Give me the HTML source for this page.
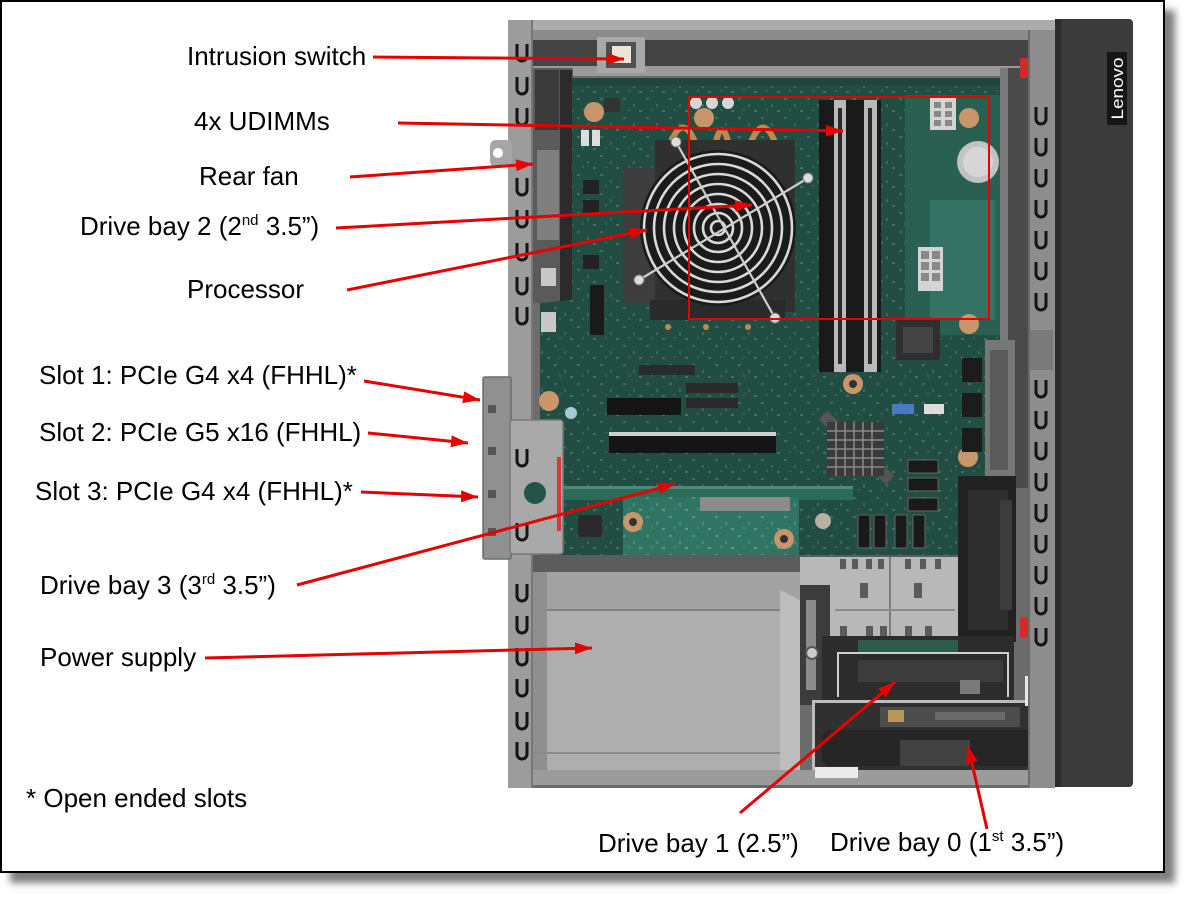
<!DOCTYPE html>
<html><head><meta charset="utf-8">
<style>
html,body{margin:0;padding:0;background:#fff;}
body{width:1195px;height:904px;position:relative;overflow:hidden;}
.frame{position:absolute;left:0;top:0;width:1161px;height:869px;border:2px solid #000;box-shadow:10px 10px 7px rgba(0,0,0,0.5);background:#fff;}
svg{position:absolute;left:0;top:0;}
text{font-family:"Liberation Sans",Arial,sans-serif;font-size:26px;fill:#000;}
</style></head><body>
<div class="frame"></div>
<svg width="1195" height="904" viewBox="0 0 1195 904" xmlns="http://www.w3.org/2000/svg">
<defs>
  <marker id="ah" markerUnits="userSpaceOnUse" markerWidth="18" markerHeight="12" refX="17" refY="6" orient="auto">
    <path d="M0,0 L17,6 L0,12 z" fill="#e60000"/>
  </marker>
  <pattern id="spk" width="23" height="19" patternUnits="userSpaceOnUse">
    <rect x="2" y="3" width="3" height="2" fill="#8fb3a6"/>
    <rect x="12" y="9" width="2" height="3" fill="#7aa596"/>
    <rect x="18" y="15" width="3" height="2" fill="#9cc0b2"/>
    <rect x="7" y="14" width="2" height="2" fill="#6f988a"/>
  </pattern>
  <g id="u"><path d="M-5,0 v12 a5,5 0 0 0 10,0 v-12" fill="none" stroke="#141414" stroke-width="3"/></g>
</defs>

<!-- ===== chassis base ===== -->
<rect x="508" y="20" width="547" height="768" fill="#6c6c6c"/>
<!-- top rim -->
<rect x="508" y="20" width="547" height="10" fill="#ababab"/>
<rect x="533" y="30" width="495" height="12" fill="#8c8c8c"/>
<rect x="533" y="40" width="495" height="28" fill="#444"/>
<rect x="533" y="66" width="495" height="10" fill="#9a9a9a"/>
<!-- intrusion switch -->
<rect x="597" y="37" width="48" height="36" fill="#a8a8a8"/>
<rect x="606" y="42" width="30" height="26" fill="#505050"/>
<rect x="612" y="46" width="19" height="17" fill="#ece4d4"/>

<!-- rear fan area -->
<rect x="533" y="68" width="40" height="235" fill="#5a5a5a"/>
<rect x="535" y="70" width="24" height="60" fill="#3a3a3a"/>
<rect x="537" y="150" width="22" height="90" fill="#7e7e7e"/>
<rect x="560" y="70" width="12" height="232" fill="#2b2b2b"/>

<!-- motherboard -->
<polygon points="572,78 1000,78 1000,556 540,556 540,303 572,300" fill="#224d43"/>
<polygon points="572,78 1000,78 1000,556 540,556 540,303 572,300" fill="url(#spk)" opacity="0.3"/>
<rect x="905" y="95" width="95" height="240" fill="#2a6051"/>
<rect x="930" y="200" width="65" height="120" fill="#347363"/>
<rect x="572" y="78" width="428" height="8" fill="#1d463c"/>

<!-- right side between board & rail -->
<rect x="1000" y="68" width="28" height="420" fill="#4a4a4a"/>
<rect x="1000" y="68" width="8" height="420" fill="#7a7a7a"/>
<rect x="985" y="340" width="30" height="140" fill="#777"/>
<rect x="990" y="350" width="18" height="120" fill="#5a5a5a"/>

<!-- board components (left) -->
<rect x="541" y="268" width="15" height="18" fill="#c8c8c8"/>
<rect x="541" y="312" width="15" height="20" fill="#c8c8c8"/>
<rect x="581" y="130" width="8" height="16" fill="#ddd"/>
<rect x="592" y="130" width="8" height="16" fill="#ddd"/>
<rect x="583" y="180" width="16" height="14" fill="#222"/>
<rect x="583" y="200" width="16" height="14" fill="#222"/>
<rect x="583" y="255" width="16" height="14" fill="#222"/>
<rect x="604" y="98" width="16" height="14" fill="#333"/>
<rect x="590" y="285" width="14" height="50" fill="#1a1a1a"/>
<circle cx="594" cy="112" r="10" fill="#c9966c"/>
<circle cx="704" cy="118" r="10" fill="#c9966c"/>
<circle cx="969" cy="118" r="10" fill="#c9966c"/>
<circle cx="969" cy="324" r="10" fill="#c9966c"/>
<circle cx="853" cy="384" r="10" fill="#c9966c"/>
<circle cx="853" cy="384" r="4" fill="#333"/>
<circle cx="549" cy="401" r="10" fill="#c9966c"/>
<circle cx="968" cy="457" r="10" fill="#c9966c"/>
<circle cx="571" cy="413" r="6" fill="#a8c8d8"/>
<!-- caps top -->
<circle cx="696" cy="103" r="6" fill="#d6d6d6"/>
<circle cx="712" cy="103" r="6" fill="#d6d6d6"/>
<circle cx="728" cy="103" r="6" fill="#d6d6d6"/>

<!-- heat pipes -->
<path d="M668,150 Q683,105 698,150" fill="none" stroke="#c08850" stroke-width="6"/>
<path d="M714,150 Q722,110 730,150" fill="none" stroke="#c08850" stroke-width="6"/>
<path d="M748,150 Q763,105 778,150" fill="none" stroke="#c08850" stroke-width="6"/>
<!-- heatsink -->
<rect x="623" y="168" width="45" height="135" fill="#3d3d3d"/>
<rect x="655" y="140" width="140" height="172" fill="#303030"/>
<rect x="650" y="300" width="135" height="20" fill="#2a2a2a"/>
<circle cx="668" cy="327" r="3" fill="#c08850"/>
<circle cx="706" cy="327" r="3" fill="#c08850"/>
<circle cx="748" cy="327" r="3" fill="#c08850"/>
<circle cx="718" cy="228" r="78" fill="#1b1b1b"/>
<g fill="none" stroke="#d9d9d9" stroke-width="2.6">
  <circle cx="718" cy="228" r="74"/>
  <circle cx="718" cy="228" r="64"/>
  <circle cx="718" cy="228" r="54"/>
  <circle cx="718" cy="228" r="44"/>
  <circle cx="718" cy="228" r="34"/>
  <circle cx="718" cy="228" r="24"/>
  <circle cx="718" cy="228" r="15"/>
  <circle cx="718" cy="228" r="7"/>
</g>
<g stroke="#cfcfcf" stroke-width="2.2">
  <line x1="676" y1="142" x2="775" y2="318"/>
  <line x1="808" y1="178" x2="639" y2="280"/>
</g>
<g fill="#ddd" stroke="#777" stroke-width="1">
  <circle cx="676" cy="142" r="5"/><circle cx="808" cy="178" r="5"/>
  <circle cx="639" cy="280" r="5"/><circle cx="775" cy="318" r="5"/>
</g>

<!-- DIMM slots -->
<rect x="819" y="100" width="62" height="272" fill="#1a1a1a"/>
<rect x="834" y="100" width="12" height="272" fill="#b9b9b9"/>
<rect x="838" y="108" width="4" height="256" fill="#2a2a2a"/>
<rect x="864" y="100" width="13" height="272" fill="#b9b9b9"/>
<rect x="868" y="108" width="4" height="256" fill="#2a2a2a"/>
<!-- connectors right -->
<rect x="930" y="98" width="26" height="32" fill="#d4d4d4"/>
<g fill="#888"><rect x="934" y="102" width="7" height="6"/><rect x="945" y="102" width="7" height="6"/><rect x="934" y="111" width="7" height="6"/><rect x="945" y="111" width="7" height="6"/><rect x="934" y="120" width="7" height="6"/><rect x="945" y="120" width="7" height="6"/></g>
<rect x="918" y="247" width="25" height="44" fill="#d4d4d4"/>
<g fill="#888"><rect x="921" y="251" width="8" height="8"/><rect x="932" y="251" width="8" height="8"/><rect x="921" y="262" width="8" height="8"/><rect x="932" y="262" width="8" height="8"/><rect x="921" y="273" width="8" height="8"/><rect x="932" y="273" width="8" height="8"/></g>
<circle cx="978" cy="162" r="21" fill="#c2c2c2"/>
<circle cx="978" cy="162" r="15" fill="#d6d6d6"/>
<rect x="896" y="320" width="44" height="40" fill="#2e2e2e"/>
<rect x="903" y="327" width="30" height="26" fill="#444"/>
<g fill="#1c1c1c"><rect x="962" y="358" width="20" height="24"/><rect x="962" y="393" width="20" height="24"/><rect x="962" y="428" width="20" height="24"/></g>
<rect x="892" y="404" width="22" height="10" fill="#4a7ac0"/>
<rect x="924" y="404" width="20" height="10" fill="#ddd"/>

<!-- PCIe slots -->
<rect x="639" y="365" width="56" height="10" fill="#2a2a2a"/>
<rect x="686" y="383" width="52" height="10" fill="#2a2a2a"/>
<rect x="686" y="398" width="52" height="10" fill="#2a2a2a"/>
<rect x="607" y="398" width="74" height="17" fill="#151515"/>
<rect x="609" y="432" width="167" height="21" fill="#151515"/>
<rect x="609" y="432" width="167" height="4" fill="#cfcfcf"/>
<!-- chipset heatsink -->
<path d="M823,415 L890,480" stroke="#555" stroke-width="12"/>
<rect x="827" y="422" width="57" height="54" fill="#3a3a3a"/>
<g stroke="#8a8a8a" stroke-width="1.5">
  <line x1="827" y1="431" x2="884" y2="431"/><line x1="827" y1="440" x2="884" y2="440"/><line x1="827" y1="449" x2="884" y2="449"/><line x1="827" y1="458" x2="884" y2="458"/><line x1="827" y1="467" x2="884" y2="467"/>
  <line x1="836" y1="422" x2="836" y2="476"/><line x1="845" y1="422" x2="845" y2="476"/><line x1="854" y1="422" x2="854" y2="476"/><line x1="863" y1="422" x2="863" y2="476"/><line x1="872" y1="422" x2="872" y2="476"/>
</g>
<!-- SATA -->
<g fill="#1a1a1a" stroke="#666" stroke-width="1">
  <rect x="908" y="460" width="30" height="13"/><rect x="908" y="478" width="30" height="13"/><rect x="908" y="498" width="30" height="13"/>
  <rect x="858" y="515" width="12" height="33"/><rect x="874" y="515" width="12" height="33"/><rect x="895" y="515" width="12" height="33"/><rect x="913" y="515" width="12" height="33"/>
</g>
<!-- long card edge + drive bay 3 card -->
<rect x="563" y="486" width="290" height="14" fill="#2b6b58"/>
<rect x="563" y="486" width="290" height="3" fill="#4a8c78"/>
<rect x="623" y="497" width="176" height="88" fill="#307563"/>
<rect x="623" y="497" width="176" height="88" fill="url(#spk)" opacity="0.45"/>
<rect x="700" y="497" width="90" height="14" fill="#8c8c8c"/>
<circle cx="633" cy="522" r="10" fill="#c9966c"/><circle cx="633" cy="522" r="4" fill="#333"/>
<circle cx="784" cy="539" r="10" fill="#c9966c"/><circle cx="784" cy="539" r="4" fill="#333"/>
<circle cx="823" cy="521" r="8" fill="#b8b0a0"/>
<rect x="578" y="515" width="24" height="22" fill="#2a2a2a"/>

<!-- chassis fan right -->
<rect x="958" y="476" width="58" height="166" fill="#222"/>
<rect x="968" y="490" width="40" height="140" fill="#2e2e2e"/>
<rect x="1000" y="500" width="12" height="110" fill="#3c3c3c"/>

<!-- below board shadow -->
<rect x="533" y="555" width="425" height="18" fill="#5c5c5c"/>
<!-- PSU -->
<rect x="533" y="572" width="267" height="198" fill="#aeaeae"/>
<rect x="533" y="572" width="267" height="38" fill="#a2a2a2"/>
<rect x="533" y="609" width="267" height="2" fill="#808080"/>
<rect x="533" y="572" width="14" height="198" fill="#8f8f8f"/>
<rect x="533" y="752" width="267" height="2" fill="#8a8a8a"/>
<polygon points="780,590 800,600 800,770 780,770" fill="#bdbdbd"/>

<!-- drive cage -->
<rect x="800" y="557" width="158" height="84" fill="#b8b8b8"/>
<g fill="#5a5a5a">
  <rect x="840" y="559" width="6" height="10"/><rect x="852" y="559" width="6" height="10"/><rect x="866" y="559" width="6" height="10"/><rect x="878" y="559" width="6" height="10"/><rect x="905" y="559" width="6" height="10"/><rect x="920" y="559" width="6" height="10"/><rect x="935" y="559" width="6" height="10"/>
  <rect x="860" y="583" width="8" height="15"/><rect x="914" y="583" width="8" height="15"/>
  <rect x="840" y="626" width="7" height="12"/><rect x="866" y="626" width="7" height="12"/><rect x="880" y="626" width="7" height="12"/><rect x="905" y="626" width="7" height="12"/><rect x="925" y="626" width="7" height="12"/>
</g>
<rect x="889" y="557" width="2" height="84" fill="#7c7c7c"/>
<rect x="835" y="609" width="120" height="2" fill="#8a8a8a"/>
<rect x="800" y="585" width="30" height="120" fill="#3c3c3c"/>
<rect x="806" y="600" width="10" height="90" fill="#8c8c8c"/>
<circle cx="812" cy="653" r="6" fill="#ccc" stroke="#555" stroke-width="2"/>

<!-- drive bay 1 (2.5") -->
<rect x="822" y="636" width="192" height="64" fill="#2c2c2c"/>
<rect x="858" y="640" width="100" height="12" fill="#2d5a4a"/>
<path d="M838,697 V653 H1008 V697" fill="none" stroke="#cfcfcf" stroke-width="2"/>
<rect x="858" y="660" width="145" height="22" fill="#3c3c3c"/>
<rect x="960" y="680" width="20" height="14" fill="#7a7a7a"/>
<!-- drive bay 0 (3.5") -->
<rect x="812" y="700" width="235" height="72" fill="#303030"/>
<rect x="812" y="700" width="230" height="3" fill="#bdbdbd"/>
<rect x="812" y="700" width="3" height="70" fill="#bdbdbd"/>
<rect x="880" y="707" width="140" height="20" fill="#4c4c4c"/>
<rect x="888" y="710" width="16" height="12" fill="#b89a55"/>
<rect x="935" y="712" width="70" height="8" fill="#6a6a6a"/>
<rect x="822" y="730" width="215" height="36" rx="8" fill="#262626"/>
<rect x="900" y="740" width="70" height="26" fill="#424242"/>
<rect x="1025" y="676" width="25" height="30" fill="#e6e6e6"/>

<!-- bottom rim -->
<rect x="510" y="770" width="545" height="18" fill="#9b9b9b"/>
<rect x="510" y="785" width="545" height="3" fill="#6a6a6a"/>
<rect x="815" y="767" width="43" height="11" fill="#eaeaea"/>

<!-- left rail -->
<rect x="508" y="20" width="25" height="768" fill="#9c9c9c"/>
<rect x="531" y="20" width="2" height="768" fill="#777"/>
<rect x="490" y="140" width="22" height="27" rx="6" fill="#a5a5a5"/>
<circle cx="498" cy="153" r="5" fill="#fff"/>
<g transform="translate(522,0)">
  <use href="#u" y="44"/><use href="#u" y="77"/><use href="#u" y="108"/>
  <use href="#u" y="178"/><use href="#u" y="210"/><use href="#u" y="243"/><use href="#u" y="277"/><use href="#u" y="307"/>
</g>
<!-- slot brackets -->
<rect x="483" y="377" width="28" height="182" rx="2" fill="#909090" stroke="#6a6a6a" stroke-width="1.5"/>
<g fill="#555"><rect x="488" y="405" width="8" height="8"/><rect x="488" y="447" width="8" height="8"/><rect x="488" y="490" width="8" height="8"/><rect x="488" y="528" width="8" height="8"/></g>
<rect x="510" y="420" width="53" height="134" rx="3" fill="#a9a9a9" stroke="#7a7a7a" stroke-width="1.5"/>
<rect x="557" y="457" width="4" height="74" fill="#d43a3a"/>
<circle cx="535" cy="493" r="11" fill="#24534a"/>
<g transform="translate(522,0)">
  <use href="#u" y="449"/><use href="#u" y="523"/>
  <use href="#u" y="584"/><use href="#u" y="616"/><use href="#u" y="648"/><use href="#u" y="679"/><use href="#u" y="712"/><use href="#u" y="742"/>
</g>

<!-- right rail -->
<rect x="1028" y="30" width="27" height="758" fill="#8d8d8d"/>
<rect x="1028" y="30" width="2" height="758" fill="#6a6a6a"/>
<rect x="1030" y="330" width="23" height="40" fill="#7a7a7a"/>
<rect x="1020" y="58" width="8" height="20" fill="#d42a2a"/>
<rect x="1020" y="617" width="8" height="20" fill="#d42a2a"/>
<g transform="translate(1041,0)">
  <use href="#u" y="107"/><use href="#u" y="138"/><use href="#u" y="169"/><use href="#u" y="200"/><use href="#u" y="231"/><use href="#u" y="262"/><use href="#u" y="293"/>
  <use href="#u" y="380"/><use href="#u" y="411"/><use href="#u" y="442"/><use href="#u" y="473"/><use href="#u" y="504"/><use href="#u" y="535"/><use href="#u" y="566"/><use href="#u" y="597"/><use href="#u" y="628"/>
</g>

<!-- front panel -->
<rect x="1055" y="19" width="78" height="768" rx="4" fill="#3b3b3b"/>
<rect x="1055" y="19" width="6" height="768" fill="#2c2c2c"/>
<rect x="1107" y="52" width="20" height="73" fill="#161616"/>
<text transform="translate(1123,88.5) rotate(-90)" text-anchor="middle" style="font-size:17px;fill:#fff" textLength="62" lengthAdjust="spacingAndGlyphs">Lenovo</text>

<!-- red highlight rectangle -->
<rect x="689" y="97" width="300" height="222" fill="none" stroke="#e60000" stroke-width="2"/>

<!-- arrows -->
<g stroke="#e60000" stroke-width="3" fill="none" marker-end="url(#ah)">
  <line x1="373" y1="57" x2="624" y2="59"/>
  <line x1="398" y1="123" x2="843" y2="131"/>
  <line x1="350" y1="177" x2="533" y2="164"/>
  <line x1="336" y1="228" x2="752" y2="205"/>
  <line x1="347" y1="290" x2="647" y2="230"/>
  <line x1="364" y1="381" x2="480" y2="400"/>
  <line x1="368" y1="433" x2="468" y2="443"/>
  <line x1="361" y1="492" x2="478" y2="497"/>
  <line x1="297" y1="585" x2="675" y2="484"/>
  <line x1="205" y1="658" x2="592" y2="648"/>
  <line x1="740" y1="813" x2="895" y2="682"/>
  <line x1="987" y1="829" x2="968" y2="746"/>
</g>

<!-- labels -->
<text x="187" y="65">Intrusion switch</text>
<text x="194" y="130">4x UDIMMs</text>
<text x="199" y="185">Rear fan</text>
<text x="80" y="235">Drive bay 2 (2<tspan style="font-size:15px" dy="-10">nd</tspan><tspan dy="10"> 3.5”)</tspan></text>
<text x="187" y="298">Processor</text>
<text x="39" y="384">Slot 1: PCIe G4 x4 (FHHL)*</text>
<text x="39" y="441">Slot 2: PCIe G5 x16 (FHHL)</text>
<text x="35" y="500">Slot 3: PCIe G4 x4 (FHHL)*</text>
<text x="40" y="594">Drive bay 3 (3<tspan style="font-size:15px" dy="-10">rd</tspan><tspan dy="10"> 3.5”)</tspan></text>
<text x="40" y="666">Power supply</text>
<text x="26" y="807">* Open ended slots</text>
<text x="598" y="852">Drive bay 1 (2.5”)</text>
<text x="830" y="851">Drive bay 0 (1<tspan style="font-size:15px" dy="-10">st</tspan><tspan dy="10"> 3.5”)</tspan></text>
</svg>
</body></html>
